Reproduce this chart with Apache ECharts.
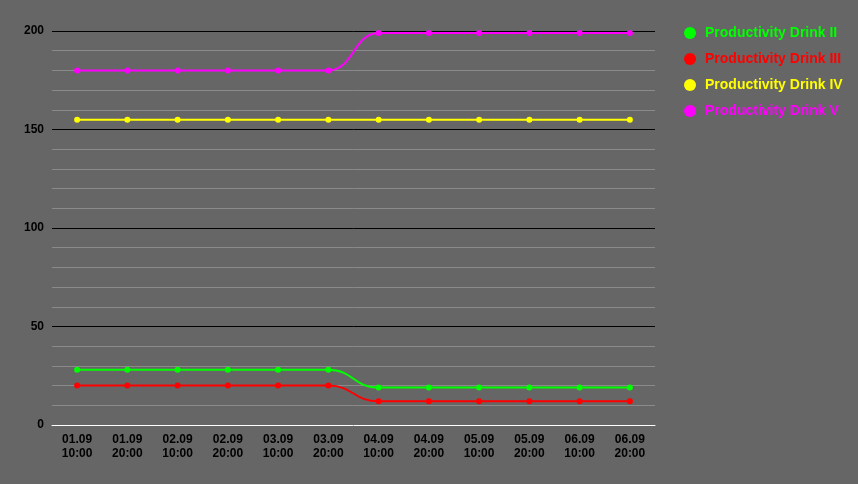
<!DOCTYPE html>
<html><head><meta charset="utf-8">
<script src="https://cdn.jsdelivr.net/npm/echarts@6/dist/echarts.min.js"></script>
<style>html,body{margin:0;padding:0;background:#666666;}#c{width:858px;height:484px;}</style>
</head><body><div id="c"></div>
<script>
const categories = ["01.09\n10:00","01.09\n20:00","02.09\n10:00","02.09\n20:00","03.09\n10:00","03.09\n20:00","04.09\n10:00","04.09\n20:00","05.09\n10:00","05.09\n20:00","06.09\n10:00","06.09\n20:00"];
const seriesNames = ["Productivity Drink II","Productivity Drink III","Productivity Drink IV","Productivity Drink V"];
const drink2 = [28,28,28,28,28,28,19,19,19,19,19,19];
const drink3 = [20,20,20,20,20,20,12,12,12,12,12,12];
const drink4 = [155,155,155,155,155,155,155,155,155,155,155,155];
const drink5 = [180,180,180,180,180,180,199,199,199,199,199,199];
const colors = ["#00ff00","#ff0000","#ffff00","#ff00ff"];
const allData = [drink2, drink3, drink4, drink5];

const chart = echarts.init(document.getElementById('c'));
chart.setOption({
  backgroundColor: '#666666',
  animation: false,
  textStyle: {fontFamily: 'Liberation Sans, Arial, sans-serif'},
  grid: {left: 52, right: 203, top: 31, bottom: 59, containLabel: false},
  legend: {
    orient: 'vertical', left: 679, top: 21, itemGap: 12,
    icon: 'circle', itemWidth: 20, itemHeight: 12,
    data: seriesNames.map((n,i)=>({name:n, textStyle:{color:colors[i]}})),
    textStyle: {fontWeight:'bold', fontSize: 14, fontFamily: 'Liberation Sans, Arial, sans-serif'}
  },
  xAxis: {
    type: 'category', data: categories, boundaryGap: true,
    axisLine: {lineStyle: {color: '#ffffff', width: 1}},
    axisTick: {show: false},
    axisLabel: {color: '#000000', fontWeight: 'bold', fontSize: 12, lineHeight: 14, margin: 8, interval: 0},
    splitLine: {show: false}
  },
  yAxis: {
    type: 'value', min: 0, max: 200, interval: 50,
    axisLine: {show: false}, axisTick: {show: false},
    axisLabel: {color: '#000000', fontWeight: 'bold', fontSize: 12, margin: 8},
    splitLine: {show: true, lineStyle: {color: '#000000', width: 1}},
    minorTick: {show: false, splitNumber: 5},
    minorSplitLine: {show: true, lineStyle: {color: '#8a8a8a', width: 1}}
  },
  series: seriesNames.map((n,i)=>({
    name: n, type: 'line', data: allData[i], smooth: 0.5, smoothMonotone: 'x',
    symbol: 'circle', symbolSize: 6, color: colors[i],
    lineStyle: {width: 2, color: colors[i]},
    itemStyle: {color: colors[i]}
  }))
});
</script></body></html>
